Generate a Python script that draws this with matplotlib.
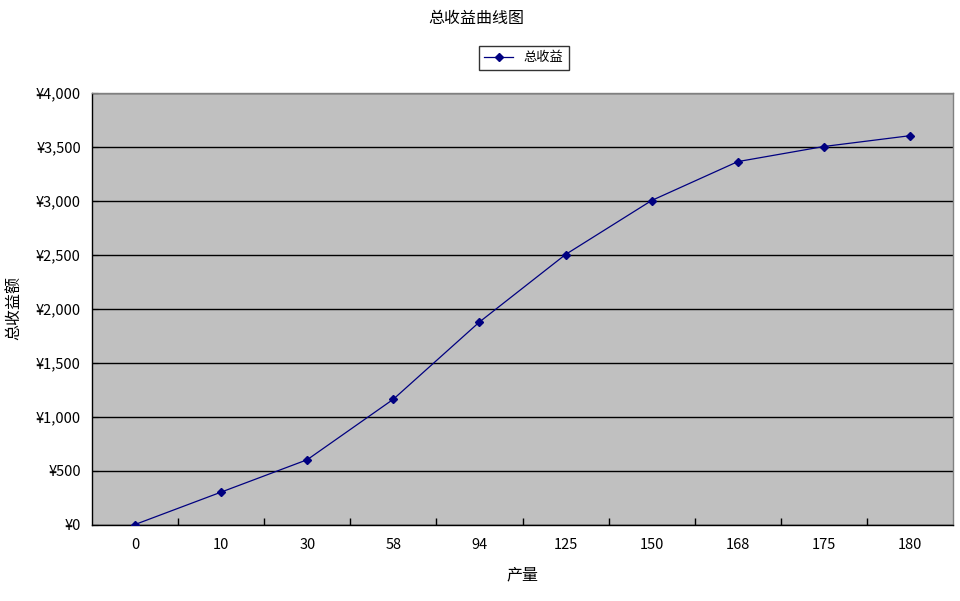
import matplotlib
matplotlib.use("Agg")
import matplotlib.pyplot as plt
from matplotlib.ticker import FuncFormatter, FixedLocator

plt.rcParams['font.family'] = ['Noto Sans CJK SC', 'DejaVu Sans']

categories = ["0", "10", "30", "58", "94", "125", "150", "168", "175", "180"]
revenue = [0, 300, 600, 1160, 1875, 2500, 3000, 3360, 3500, 3600]

fig = plt.figure(figsize=(9.6, 6.01), dpi=100)
ax = fig.add_axes([92/960, 1-524.5/601, (953-92)/960, (524.5-92.5)/601])
ax.set_facecolor("#C0C0C0")

xs = list(range(len(categories)))
ax.plot(xs, revenue, color="#000080", lw=0.9, marker="D", ms=4.5,
        markerfacecolor="#000080", markeredgecolor="#000080", label="总收益", zorder=3)

ax.set_xlim(-0.5, len(categories) - 0.5)
ax.set_ylim(0, 4000)
ax.set_yticks(range(0, 4001, 500))
ax.yaxis.set_major_formatter(FuncFormatter(lambda v, p: f"¥{int(v):,}"))
ax.set_xticks(xs)
ax.set_xticklabels(categories)
ax.xaxis.set_minor_locator(FixedLocator([i + 0.5 for i in range(len(categories) - 1)]))
ax.tick_params(axis="x", which="major", length=0, pad=10, labelsize=10.5)
ax.tick_params(axis="x", which="minor", length=5, direction="in", width=1)
ax.tick_params(axis="y", length=4, direction="in", labelsize=10.5, pad=8)

ax.grid(axis="y", color="black", lw=1)
ax.set_axisbelow(True)
for s in ["top", "right"]:
    ax.spines[s].set_color("#808080")
    ax.spines[s].set_linewidth(1)
for s in ["left", "bottom"]:
    ax.spines[s].set_color("black")
    ax.spines[s].set_linewidth(1)

ax.set_xlabel("产量", fontsize=11.5, labelpad=10)
ax.set_ylabel("总收益额", fontsize=11.5, labelpad=9)
fig.text(476/960, 1-19/601, "总收益曲线图", ha="center", va="center", fontsize=11.5)

leg = ax.legend(loc="center", bbox_to_anchor=(524/960, 1-58/601), bbox_transform=fig.transFigure,
                frameon=True, fancybox=False, edgecolor="black", fontsize=9.5,
                handlelength=2.2, borderpad=0.4)
leg.get_frame().set_linewidth(1)

fig.savefig("out.png", dpi=100)
